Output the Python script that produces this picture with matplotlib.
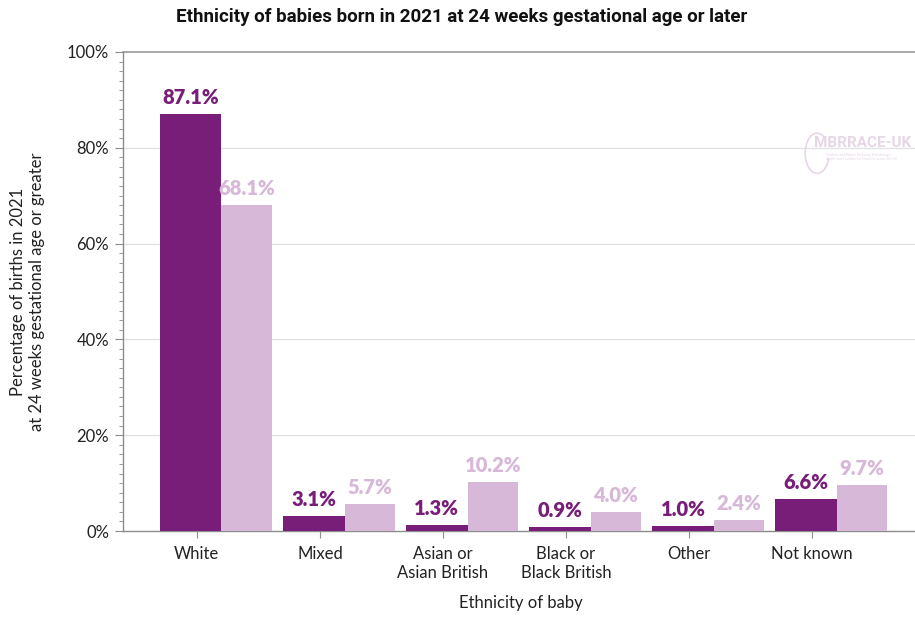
import matplotlib
matplotlib.use("Agg")
import matplotlib.pyplot as plt
from matplotlib.patches import Arc
from matplotlib.ticker import MultipleLocator, FuncFormatter

plt.rcParams["font.family"] = ["Lato", "DejaVu Sans"]

categories = ["White", "Mixed", "Asian or\nAsian British", "Black or\nBlack British", "Other", "Not known"]
dark_pct = [87.1, 3.1, 1.3, 0.9, 1.0, 6.6]
light_pct = [68.1, 5.7, 10.2, 4.0, 2.4, 9.7]

DARK = "#781d78"
LIGHT = "#d8b8d8"
AXIS_GREY = "#8c8c8c"

fig = plt.figure(figsize=(9.15, 6.18), dpi=100)
ax = fig.add_axes([123 / 915, 1 - 531 / 618, 795 / 915, 479 / 618])

x = list(range(len(categories)))
dark_left = [i - 0.30 for i in x]
light_left = [i + 0.20 for i in x]
ax.bar(dark_left, dark_pct, width=0.50, align="edge", color=DARK, zorder=3)
ax.bar(light_left, light_pct, width=0.41, align="edge", color=LIGHT, zorder=3)

for xl, v in zip(dark_left, dark_pct):
    ax.annotate(f"{v:.1f}%", (xl + 0.25, v), xytext=(0, 5), textcoords="offset points",
                ha="center", va="bottom", color=DARK, fontsize=14.5, fontweight="heavy")
for xl, v in zip(light_left, light_pct):
    ax.annotate(f"{v:.1f}%", (xl + 0.205, v), xytext=(0, 5), textcoords="offset points",
                ha="center", va="bottom", color=LIGHT, fontsize=14.5, fontweight="heavy")

ax.set_xlim(-0.60, 5.86)
ax.set_ylim(0, 100)

ax.set_xticks(x)
ax.set_xticklabels(categories, fontsize=12, color="#222222", linespacing=1.2)
ax.tick_params(axis="x", length=5, color=AXIS_GREY, pad=6)

ax.yaxis.set_major_locator(MultipleLocator(20))
ax.yaxis.set_minor_locator(MultipleLocator(2))
ax.yaxis.set_major_formatter(FuncFormatter(lambda v, _: f"{v:.0f}%"))
ax.tick_params(axis="y", which="major", length=6, color=AXIS_GREY, labelsize=12,
               labelcolor="#222222", pad=4)
ax.tick_params(axis="y", which="minor", length=3, color=AXIS_GREY)

for y in (20, 40, 60, 80):
    ax.axhline(y, color="#e2e2e2", lw=1, zorder=1)
ax.axhline(100, color="#999999", lw=1.2, zorder=1, clip_on=False)

for side in ("top", "right"):
    ax.spines[side].set_visible(False)
for side in ("left", "bottom"):
    ax.spines[side].set_color(AXIS_GREY)
    ax.spines[side].set_linewidth(1)

ax.set_xlabel("Ethnicity of baby", fontsize=12, color="#222222", labelpad=10)
ax.set_ylabel("Percentage of births in 2021\nat 24 weeks gestational age or greater",
              fontsize=12, color="#222222", labelpad=16, linespacing=1.2)

fig.text(0.505, 0.972, "Ethnicity of babies born in 2021 at 24 weeks gestational age or later",
         ha="center", va="center", fontsize=13.5, fontweight="bold", color="#111111",
         family=["Roboto", "DejaVu Sans"])

# faint MBRRACE-UK watermark
wm = "#e6d6e6"
fig.text(0.890, 0.768, "MBRRACE-UK", ha="left", va="center", fontsize=11,
         fontweight="bold", color=wm, family=["Roboto", "DejaVu Sans"])
fig.text(0.903, 0.746, "Mothers and Babies: Reducing Risk through\nAudits and Confidential Enquiries across the UK",
         ha="left", va="center", fontsize=2.4, color=wm, linespacing=1.3)
fig.patches.append(Arc((0.893, 0.752), 0.026, 0.065, theta1=70, theta2=330,
                       transform=fig.transFigure, color=wm, lw=1.2))

fig.savefig("out.png", dpi=100)
